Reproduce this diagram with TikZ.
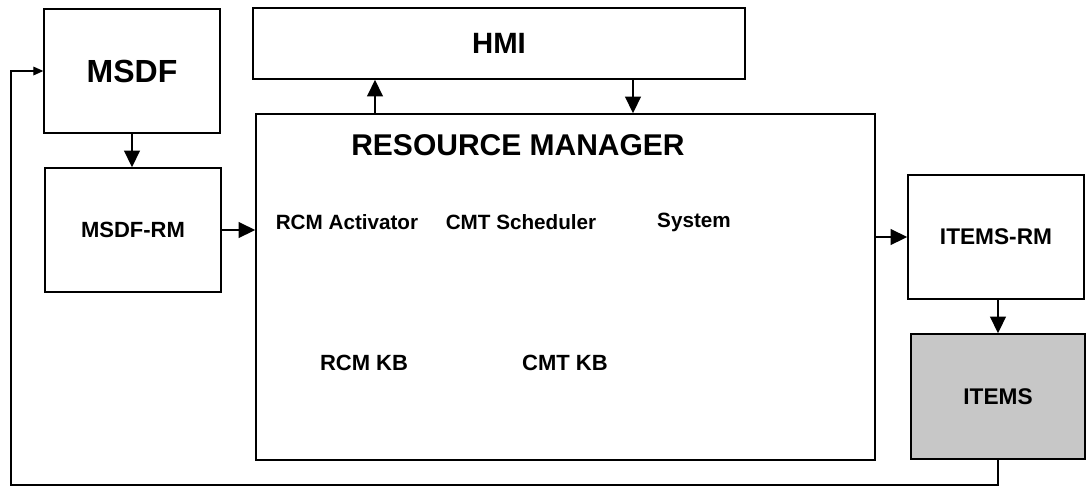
\documentclass[tikz,border=0pt]{standalone}
\usepackage{fontspec}
\setmainfont{Liberation Sans}
\usetikzlibrary{arrows.meta}
\begin{document}
\begin{tikzpicture}[x=0.75pt,y=0.75pt,yscale=-1,xscale=1,
    blk/.style={draw,line width=1pt,inner sep=0pt,font=\bfseries},
    lbl/.style={inner sep=0.75pt,font=\bfseries\fontsize{15.5}{18}\selectfont},
    arr/.style={line width=2.2pt,-{Triangle[length=12.5pt,width=11.5pt]}},
    fbarr/.style={line width=0.9pt,-{Triangle[length=7.5pt,width=6.5pt]}}]
    \useasboundingbox (0,0) rectangle (1086,487);
    % Blocks
    \node [blk,minimum width=132pt,minimum height=93pt,font=\bfseries\fontsize{24}{28}\selectfont] (msdf) at (132,71) {MSDF};
    \node [blk,minimum width=132pt,minimum height=93pt,font=\bfseries\fontsize{16.5}{20}\selectfont] (msdfrm) at (133,230) {MSDF-RM};
    \node [blk,minimum width=369pt,minimum height=53.25pt,font=\bfseries\fontsize{22}{26}\selectfont] (hmi) at (499,43.5) {HMI};
    \node [blk,minimum width=464.25pt,minimum height=259.5pt] (rm) at (565.5,287) {};
    \node [blk,minimum width=132pt,minimum height=93pt,font=\bfseries\fontsize{17}{20}\selectfont] (itemsrm) at (996,237) {ITEMS-RM};
    \node [blk,fill=black!22,minimum width=130.5pt,minimum height=93.75pt,font=\bfseries\fontsize{17}{20}\selectfont] (items) at (998,396.5) {ITEMS};
    % Text Node
    \node [inner sep=0.75pt,font=\bfseries\fontsize{22.5}{26}\selectfont] (rmtitle) at (518,145) {RESOURCE MANAGER};
    % Text Node
    \node [lbl] (act) at (347,222) {RCM Activator};
    % Text Node
    \node [lbl] (sched) at (521,222) {CMT Scheduler};
    % Text Node
    \node [lbl] (sys) at (694,222) {System};
    % Text Node
    \node [lbl,font=\bfseries\fontsize{16.5}{20}\selectfont] (rcmkb) at (364,363) {RCM KB};
    % Text Node
    \node [lbl,font=\bfseries\fontsize{16.5}{20}\selectfont] (cmtkb) at (565,363) {CMT KB};
    % Arrows
    \coordinate (tohmi) at (375,0);
    \coordinate (fromhmi) at (633,0);
    \coordinate (fb) at (11,485);
    \draw [arr] (msdf.south) -- (msdf.south |- msdfrm.north);
    \draw [arr] (msdfrm.east) -- (msdfrm.east -| rm.west);
    \draw [arr] (tohmi |- rm.north) -- (tohmi |- hmi.south);
    \draw [arr] (fromhmi |- hmi.south) -- (fromhmi |- rm.north);
    \draw [arr] (itemsrm.west -| rm.east) -- (itemsrm.west);
    \draw [arr] (items.north |- itemsrm.south) -- (items.north);
    % Feedback line
    \draw [fbarr] (items.south) |- (fb) |- (msdf.west);
\end{tikzpicture}
\end{document}
